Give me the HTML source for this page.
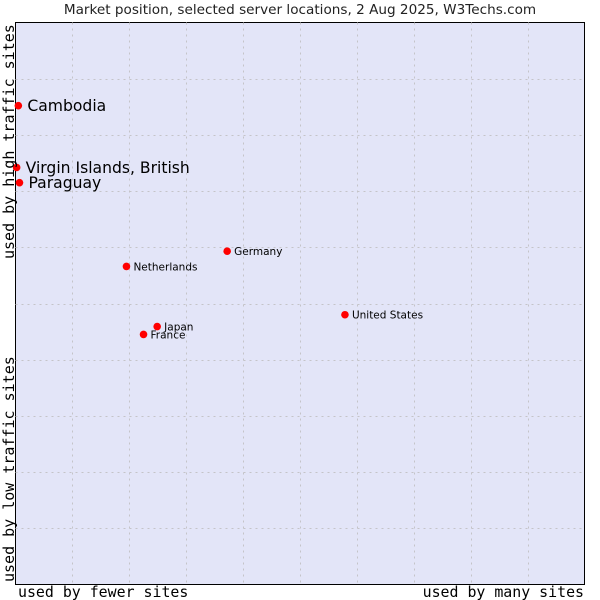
<!DOCTYPE html>
<html><head><meta charset="utf-8"><style>
html,body{margin:0;padding:0;background:#fff;}
svg{display:block;}
</style></head><body>
<svg id="chart" width="600" height="600" xmlns="http://www.w3.org/2000/svg">
<text x="300" y="14" text-anchor="middle" font-family="DejaVu Sans, sans-serif" font-size="13.6" fill="#222">Market position, selected server locations, 2 Aug 2025, W3Techs.com</text>
<rect x="15.5" y="22.5" width="569" height="562" fill="#e3e5f8" stroke="#000" stroke-width="1"/>
<g id="grid"></g>
<g id="points"></g>
<text x="18" y="597" font-family="DejaVu Sans Mono, monospace" font-size="14.9" fill="#000">used by fewer sites</text>
<text x="584" y="597" text-anchor="end" font-family="DejaVu Sans Mono, monospace" font-size="14.9" fill="#000">used by many sites</text>
<text transform="translate(14,259) rotate(-90)" font-family="DejaVu Sans Mono, monospace" font-size="15" fill="#000">used by high traffic sites</text>
<text transform="translate(14,582) rotate(-90)" font-family="DejaVu Sans Mono, monospace" font-size="15" fill="#000">used by low traffic sites</text>
</svg>
<script>
const countries = ["Cambodia","Virgin Islands, British","Paraguay","Germany","Netherlands","United States","Japan","France"];
const xValues = [0.5,0.2,0.7,37.2,19.5,57.9,24.9,22.5];
const yValues = [85.2,74.2,71.5,59.3,56.6,48.0,45.9,44.5];
const bigLabel = [true,true,true,false,false,false,false,false];
const gridTicks = [10,20,30,40,50,60,70,80,90];

const L=15.5,R=584.5,T=22.5,B=584.5;
const sx=v=>L+(R-L)*v/100;
const sy=v=>B-(B-T)*v/100;
const NS="http://www.w3.org/2000/svg";
const grid=document.getElementById('grid');
gridTicks.forEach(t=>{
  const v=document.createElementNS(NS,'line');
  v.setAttribute('x1',Math.round(sx(t))+0.5);v.setAttribute('x2',Math.round(sx(t))+0.5);
  v.setAttribute('y1',T);v.setAttribute('y2',B);
  v.setAttribute('stroke','#c4c4c8');v.setAttribute('stroke-dasharray','2,4');
  
  
  grid.appendChild(v);
  const h=document.createElementNS(NS,'line');
  h.setAttribute('y1',Math.round(sy(t))+0.5);h.setAttribute('y2',Math.round(sy(t))+0.5);
  h.setAttribute('x1',L);h.setAttribute('x2',R);
  h.setAttribute('stroke','#c4c4c8');h.setAttribute('stroke-dasharray','2,4');
  
  
  grid.appendChild(h);
});
const pts=document.getElementById('points');
countries.forEach((c,i)=>{
  const x=sx(xValues[i]),y=sy(yValues[i]);
  const m=document.createElementNS(NS,'circle');
  m.setAttribute('cx',x);m.setAttribute('cy',y);m.setAttribute('r',3.8);
  m.setAttribute('fill','#f00');
  
  
  pts.appendChild(m);
  const t=document.createElementNS(NS,'text');
  t.setAttribute('x',x+(bigLabel[i]?9:7));
  t.setAttribute('y',y+(bigLabel[i]?5.5:4));
  t.setAttribute('font-family','DejaVu Sans, sans-serif');
  t.setAttribute('font-size',bigLabel[i]?15.6:10.5);
  t.setAttribute('fill','#000');
  t.textContent=c;
  
  
  pts.appendChild(t);
});
</script>
</body></html>
